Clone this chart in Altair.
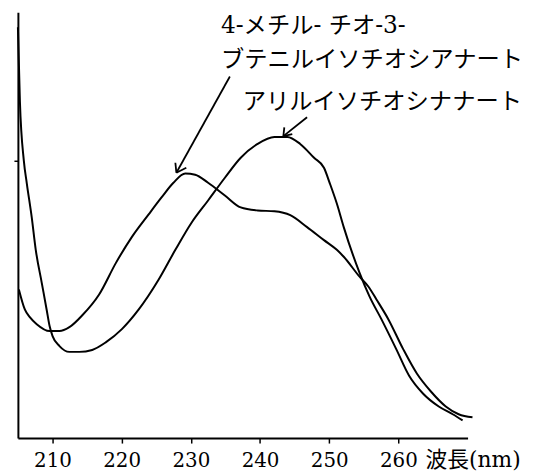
import altair as alt
import pandas as pd

# Curve 1: アリルイソチオシナナート (peak ~242 nm)
wl_a = [205.0, 205.29, 205.86, 206.29, 207.0, 207.58, 208.44, 209.15, 209.58, 210.01,
        211.01, 212.44, 213.88, 215.74, 217.74, 220.03, 222.47, 225.33, 227.76, 230.05,
        232.49, 234.92, 237.21, 239.65, 242.08, 243.94, 245.80, 247.81, 249.24, 250.10,
        251.10, 252.10, 254.39, 255.82, 257.54, 259.69, 261.55, 263.55, 265.84, 267.85, 269.28]
abs_a = [1.482, 1.214, 1.000, 0.918, 0.796, 0.679, 0.561, 0.464, 0.404, 0.368,
         0.332, 0.311, 0.311, 0.318, 0.346, 0.393, 0.464, 0.571, 0.679, 0.775,
         0.857, 0.939, 1.011, 1.061, 1.086, 1.086, 1.061, 1.011, 0.975, 0.918,
         0.846, 0.761, 0.596, 0.511, 0.429, 0.321, 0.225, 0.161, 0.114, 0.086, 0.064]

# Curve 2: 4-メチルチオ-3-ブテニルイソチオシアナート (peak ~229 nm)
wl_b = [205.14, 206.0, 206.72, 207.72, 209.58, 211.01, 212.44, 214.31, 216.74, 219.17,
        221.46, 223.90, 225.76, 227.48, 229.19, 230.63, 232.49, 234.92, 237.21, 239.65,
        242.08, 244.37, 246.80, 249.24, 251.10, 252.10, 254.39, 255.68, 256.83, 258.54,
        260.69, 262.69, 264.70, 266.85, 268.71, 270.71]
abs_b = [0.536, 0.464, 0.436, 0.411, 0.386, 0.386, 0.400, 0.443, 0.518, 0.632,
         0.725, 0.807, 0.868, 0.921, 0.954, 0.950, 0.921, 0.875, 0.832, 0.821,
         0.818, 0.804, 0.761, 0.714, 0.679, 0.654, 0.582, 0.546, 0.500, 0.429,
         0.321, 0.232, 0.168, 0.114, 0.086, 0.075]

x_ticks = [210, 220, 230, 240, 250, 260]
y_ticks = [1.0]

# Annotation labels
label_text = ["4-メチル- チオ-3-", "ブテニルイソチオシアナート", "アリルイソチオシナナート"]
label_x = [234.35, 234.35, 237.5]
label_y = [1.486, 1.364, 1.211]

# Arrow segments (shaft + two head strokes for each arrow)
arrow_x = [235.64, 227.91, 227.91, 246.80, 243.37, 243.37]
arrow_y = [1.304, 0.957, 0.957, 1.157, 1.089, 1.089]
arrow_x2 = [227.91, 227.76, 229.34, 243.37, 243.51, 244.66]
arrow_y2 = [0.957, 0.993, 0.975, 1.089, 1.121, 1.096]

FONT = "DejaVu Serif"
JFONT = "DejaVu Serif, Noto Sans CJK JP"

curves = pd.DataFrame(
    {"wl": wl_a + wl_b,
     "a": abs_a + abs_b,
     "series": ["allyl"] * len(wl_a) + ["mtb"] * len(wl_b)}
)
labels = pd.DataFrame({"x": label_x, "y": label_y, "t": label_text})
arrows = pd.DataFrame({"x": arrow_x, "y": arrow_y, "x2": arrow_x2, "y2": arrow_y2})

xs = alt.Scale(domain=[205, 270], nice=False, zero=False)
ys = alt.Scale(domain=[0, 1.536], nice=False, zero=True)

lines = alt.Chart(curves).mark_line(color="black", strokeWidth=2, interpolate="monotone").encode(
    x=alt.X("wl:Q", scale=xs,
            axis=alt.Axis(values=x_ticks, title="波長(nm)", titleX=411, titleY=12,
                          titleAlign="left", titleBaseline="top", titleFont=JFONT,
                          titleFontSize=22, titleFontWeight="normal", titleColor="black",
                          tickSize=5, labelPadding=8, format="d")),
    y=alt.Y("a:Q", scale=ys,
            axis=alt.Axis(values=y_ticks, labels=False, title=None, tickSize=4)),
    detail="series:N",
)

rules = alt.Chart(arrows).mark_rule(color="black", strokeWidth=1.8).encode(
    x=alt.X("x:Q", scale=xs), y=alt.Y("y:Q", scale=ys), x2="x2:Q", y2="y2:Q"
)

texts = alt.Chart(labels).mark_text(
    align="left", baseline="middle", font=JFONT, fontSize=23.5, color="black"
).encode(x=alt.X("x:Q", scale=xs), y=alt.Y("y:Q", scale=ys), text="t:N")

chart = alt.layer(lines, rules, texts).properties(
    width=454, height=430,
    autosize=alt.AutoSizeParams(type="none"),
    padding={"left": 10, "top": 2, "right": 60, "bottom": 35},
    background="white",
).configure_view(stroke=None).configure_axis(
    grid=False, domainColor="black", domainWidth=2, tickColor="black", tickWidth=1.5,
    labelFont=FONT, labelFontSize=20, labelColor="black",
)

chart.save("out.html", embed_options={"renderer": "svg", "actions": False})
